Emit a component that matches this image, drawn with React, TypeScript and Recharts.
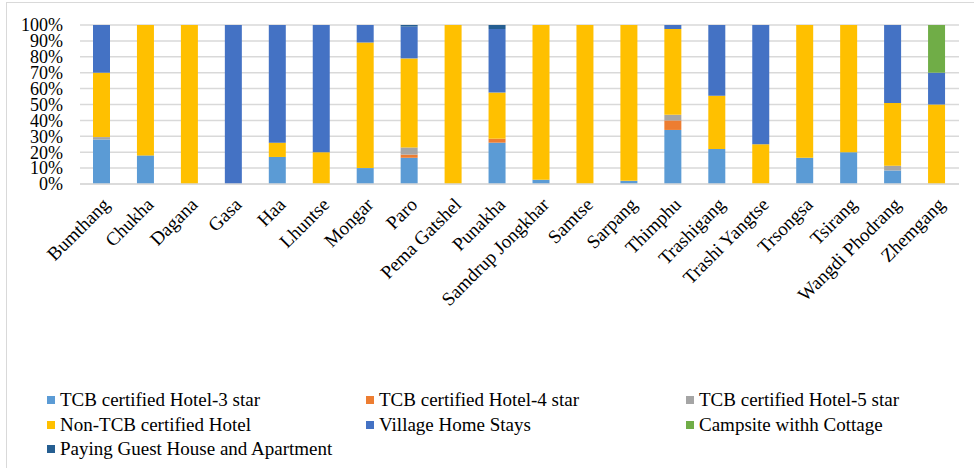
import React from 'react';
import { BarChart, Bar, XAxis, YAxis, CartesianGrid, Legend } from 'recharts';

const districts = [
  'Bumthang', 'Chukha', 'Dagana', 'Gasa', 'Haa', 'Lhuntse', 'Mongar', 'Paro',
  'Pema Gatshel', 'Punakha', 'Samdrup Jongkhar', 'Samtse', 'Sarpang', 'Thimphu',
  'Trashigang', 'Trashi Yangtse', 'Trsongsa', 'Tsirang', 'Wangdi Phodrang', 'Zhemgang',
];

// percent shares per district, same order as districts
const hotel3 = [28, 18, 0, 0, 17, 0, 10, 16.5, 0, 26, 2.7, 0, 2, 34, 22, 0, 16.5, 20, 8.5, 0];
const hotel4 = [0, 0, 0, 0, 0, 0, 0, 2, 0, 2.5, 0, 0, 0, 6, 0, 0, 0, 0, 0, 0];
const hotel5 = [1.5, 0, 0, 0, 0, 0, 0, 4.5, 0, 0, 0, 0, 0, 3.5, 0, 0, 0, 0, 3, 0];
const nonTcb = [40.5, 82, 100, 0, 9, 20, 79, 56, 100, 29, 97.3, 100, 98, 54, 33.5, 25, 83.5, 80, 39.5, 50];
const homeStays = [30, 0, 0, 100, 74, 80, 11, 20, 0, 40, 0, 0, 0, 2.5, 44.5, 75, 0, 0, 49, 20];
const campsite = [0, 0, 0, 0, 0, 0, 0, 0, 0, 0, 0, 0, 0, 0, 0, 0, 0, 0, 0, 30];
const payingGuest = [0, 0, 0, 0, 0, 0, 0, 1, 0, 2.5, 0, 0, 0, 0, 0, 0, 0, 0, 0, 0];

const yTicks = [0, 10, 20, 30, 40, 50, 60, 70, 80, 90, 100];

const series = [
  { key: 'h3', name: 'TCB certified Hotel-3 star', color: '#5B9BD5', values: hotel3 },
  { key: 'h4', name: 'TCB certified Hotel-4 star', color: '#ED7D31', values: hotel4 },
  { key: 'h5', name: 'TCB certified Hotel-5 star', color: '#A5A5A5', values: hotel5 },
  { key: 'non', name: 'Non-TCB certified Hotel', color: '#FFC000', values: nonTcb },
  { key: 'vhs', name: 'Village Home Stays', color: '#4472C4', values: homeStays },
  { key: 'camp', name: 'Campsite withh Cottage', color: '#70AD47', values: campsite },
  { key: 'pg', name: 'Paying Guest House and Apartment', color: '#255E91', values: payingGuest },
];

const data = districts.map((d, i) => {
  const row: Record<string, any> = { name: d };
  series.forEach((s) => { row[s.key] = s.values[i]; });
  return row;
});

const font = '"Liberation Serif", "Times New Roman", serif';

const XTick = (props: any) => {
  const { x, y, payload } = props;
  return (
    <g transform={`translate(${x + 6},${y + 11})`}>
      <text transform="rotate(-45)" textAnchor="end" fontFamily={font} fontSize={19} fill="#000" dy={4}>
        {payload.value}
      </text>
    </g>
  );
};

const LegendBox = () => {
  const cols = [47, 366, 686];
  return (
    <div style={{ position: 'relative', width: 974, height: 80, fontFamily: font, fontSize: 19, color: '#000' }}>
      {series.map((s, i) => (
        <div
          key={s.key}
          style={{
            position: 'absolute',
            left: cols[i % 3],
            top: Math.floor(i / 3) * 24.5,
            display: 'flex',
            alignItems: 'center',
            whiteSpace: 'nowrap',
            lineHeight: '20px',
          }}
        >
          <span style={{ width: 8, height: 8, background: s.color, display: 'inline-block', marginRight: 5 }} />
          {s.name}
        </div>
      ))}
    </div>
  );
};

export default function App() {
  return (
    <div style={{ position: 'absolute', left: 0, top: 0, width: 974, height: 468, background: '#fff', overflow: 'hidden' }}>
      <div style={{ position: 'absolute', left: 6, top: 2, right: 0, bottom: 0, borderTop: '1.5px solid #d9d9d9', borderLeft: '1.5px solid #d9d9d9' }} />
      <BarChart
        width={974}
        height={468}
        data={data}
        margin={{ top: 25, right: 15, left: 0, bottom: 0 }}
        barSize={17}
        style={{ fontFamily: font }}
      >
        <CartesianGrid vertical={false} stroke="#d9d9d9" strokeWidth={1.5} />
        <XAxis
          dataKey="name"
          interval={0}
          height={284}
          tickLine={false}
          axisLine={{ stroke: '#d9d9d9', strokeWidth: 1.5 }}
          tick={<XTick />}
        />
        <YAxis
          width={80}
          domain={[0, 100]}
          ticks={yTicks}
          interval={0}
          tickLine={false}
          axisLine={false}
          tickMargin={11}
          tickFormatter={(v: number) => `${v}%`}
          tick={{ fontFamily: font, fontSize: 18, fill: '#000' }}
        />
        <Legend
          verticalAlign="middle"
          layout="horizontal"
          wrapperStyle={{ top: 390, left: 0, width: 974 }}
          content={() => <LegendBox />}
        />
        {series.map((s) => (
          <Bar key={s.key} dataKey={s.key} name={s.name} stackId="a" fill={s.color} isAnimationActive={false} />
        ))}
      </BarChart>
    </div>
  );
}
